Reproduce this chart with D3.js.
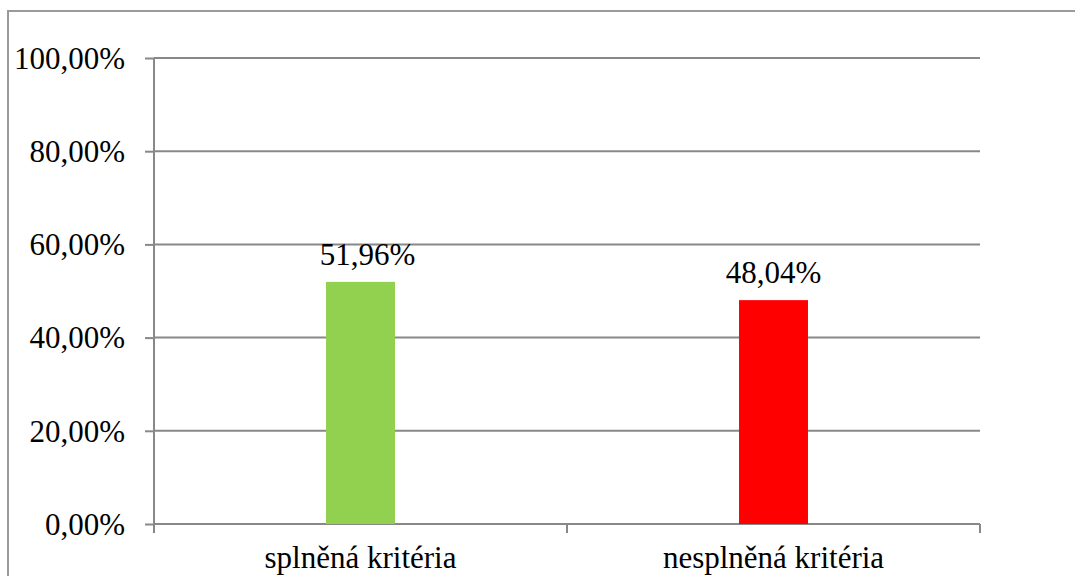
<!DOCTYPE html>
<html>
<head>
<meta charset="utf-8">
<title>Kritéria</title>
<style>
  body { margin: 0; background: #fff; }
  svg { display: block; }
  text { font-family: 'Liberation Serif', 'Times New Roman', serif; fill: #000; }
</style>
</head>
<body>
<div id="chart"></div>
<script src="https://d3js.org/d3.v7.min.js"></script>
<script>
// chart data
var categories = ["splněná kritéria", "nesplněná kritéria"];
var values     = [51.96, 48.04];
var barColors  = ["#92d050", "#ff0000"];
var yTicks     = [0, 20, 40, 60, 80, 100];

var W = 1075, H = 576;
var margin = {top: 58, left: 154, right: 95, bottom: 52};
var plotW = W - margin.left - margin.right,
    plotH = H - margin.top - margin.bottom;

function pct(v){ return v.toFixed(2).replace(".", ",") + "%"; }

var svg = d3.select("#chart").append("svg")
    .attr("width", W)
    .attr("height", H);

// outer frame (runs off right/bottom like the original)
svg.append("rect")
    .attr("x", 8).attr("y", 11)
    .attr("width", W + 20).attr("height", H + 20)
    .attr("fill", "none")
    .attr("stroke", "#9a9a9a")
    .attr("stroke-width", 2);

var g = svg.append("g")
    .attr("transform", "translate(" + margin.left + "," + margin.top + ")");

var y = d3.scaleLinear().domain([0, 100]).range([plotH, 0]);
var x = d3.scaleBand().domain(categories).range([0, plotW])
    .paddingInner(0.833).paddingOuter(0.4165);

// gridlines
g.selectAll("line.grid")
    .data(yTicks.filter(function(t){ return t > 0; }))
    .enter().append("line")
    .attr("class", "grid")
    .attr("x1", 0).attr("x2", plotW)
    .attr("y1", function(d){ return y(d); })
    .attr("y2", function(d){ return y(d); })
    .attr("stroke", "#888")
    .attr("stroke-width", 2);

// y axis
var yAxis = g.append("g")
    .call(d3.axisLeft(y).tickValues(yTicks).tickSize(9).tickPadding(20).tickFormat(pct));
yAxis.select(".domain").attr("stroke", "#888").attr("stroke-width", 2).attr("d", "M0," + plotH + "V0");
yAxis.selectAll(".tick line").attr("stroke", "#888").attr("stroke-width", 2);
yAxis.selectAll(".tick text")
    .attr("dy", "0.33em")
    .style("font-size", "31px")
    .style("font-family", "'Liberation Serif', serif");

// x axis baseline with boundary ticks
var xg = g.append("g").attr("transform", "translate(0," + plotH + ")");
xg.append("line")
    .attr("x1", 0).attr("x2", plotW)
    .attr("stroke", "#888").attr("stroke-width", 2);
var bounds = [0].concat(categories.map(function(c){ return x(c) + x.bandwidth() / 2 + x.step() / 2; }));
xg.selectAll("line.xt")
    .data(bounds)
    .enter().append("line")
    .attr("class", "xt")
    .attr("x1", function(d){ return d; }).attr("x2", function(d){ return d; })
    .attr("y1", 0).attr("y2", 9)
    .attr("stroke", "#888").attr("stroke-width", 2);
xg.selectAll("text.cat")
    .data(categories)
    .enter().append("text")
    .attr("class", "cat")
    .attr("x", function(d){ return x(d) + x.bandwidth() / 2; })
    .attr("y", 44)
    .attr("text-anchor", "middle")
    .style("font-size", "31px")
    .text(function(d){ return d; });

// bars
g.selectAll("rect.bar")
    .data(values)
    .enter().append("rect")
    .attr("class", "bar")
    .attr("x", function(d, i){ return x(categories[i]); })
    .attr("y", function(d){ return y(d); })
    .attr("width", x.bandwidth())
    .attr("height", function(d){ return plotH - y(d); })
    .attr("fill", function(d, i){ return barColors[i]; });

// value labels
g.selectAll("text.val")
    .data(values)
    .enter().append("text")
    .attr("class", "val")
    .attr("x", function(d, i){ return x(categories[i]) + x.bandwidth() / 2 + (i === 0 ? 7 : 0); })
    .attr("y", function(d){ return y(d) - 17; })
    .attr("text-anchor", "middle")
    .style("font-size", "31px")
    .text(pct);
</script>
</body>
</html>
